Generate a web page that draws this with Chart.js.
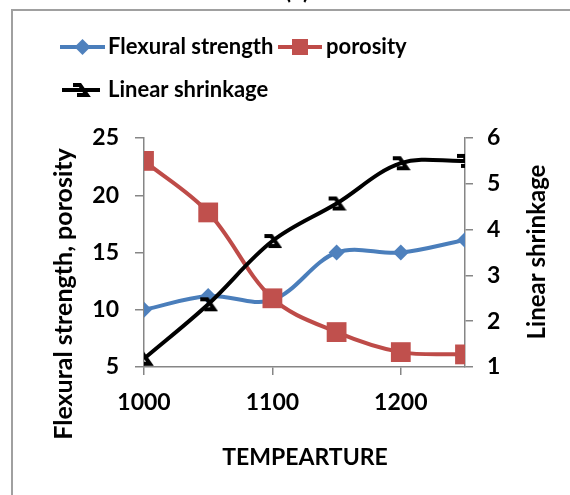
<!DOCTYPE html>
<html>
<head>
<meta charset="utf-8">
<script src="https://cdn.jsdelivr.net/npm/chart.js@4"></script>
<style>
  html, body { margin: 0; padding: 0; background: #fff; }
  #wrap { width: 570px; height: 495px; }
</style>
</head>
<body>
<div id="wrap"><canvas id="chart" width="570" height="495"></canvas></div>
<script>
// data
const temps = [1000, 1050, 1100, 1150, 1200, 1250];
const flexural = [10, 11.2, 10.85, 15, 15, 16.1];
const porosity = [23, 18.5, 11, 8.05, 6.3, 6.1];
const shrinkage = [1.18, 2.37, 3.75, 4.57, 5.45, 5.5];

const xTicks = [1000, 1100, 1200];
const leftTicks = [5, 10, 15, 20, 25];
const rightTicks = [1, 2, 3, 4, 5, 6];

const seriesNames = ["Flexural strength", "porosity", "Linear shrinkage"];
const xTitle = "TEMPEARTURE";
const leftTitle = "Flexural strength, porosity";
const rightTitle = "Linear shrinkage";

const FONT = "Lato, 'Open Sans', sans-serif";
const blue = '#4A7EBB', blueMark = '#4F81BD';
const red = '#BE4B48', redMark = '#C0504D';

// odd excel triangle marker, drawn as a little glyph
function makeShrinkMarker() {
  const c = document.createElement('canvas');
  c.width = 20; c.height = 20;
  const g = c.getContext('2d');
  g.strokeStyle = '#000';
  g.lineWidth = 4;
  g.lineJoin = 'miter';
  g.beginPath();
  g.moveTo(2, 5);
  g.lineTo(9, 5);
  g.lineTo(16, 15);
  g.lineTo(6, 15);
  g.stroke();
  return c;
}
const shrinkMarker = makeShrinkMarker();

const toXY = vals => vals.map((v, i) => ({ x: temps[i], y: v }));

const setTicks = arr => scale => { scale.ticks = arr.map(v => ({ value: v })); };

// legend, titles and frame
const decor = {
  id: 'decor',
  afterDraw(chart) {
    const ctx = chart.ctx;
    ctx.save();

    // frame
    ctx.strokeStyle = '#a0a0a0';
    ctx.lineWidth = 2;
    ctx.strokeRect(12, 10, 600, 520);

    // cut-off panel label
    ctx.fillStyle = '#000';
    ctx.font = "bold 22px " + FONT;
    ctx.textAlign = 'center';
    ctx.textBaseline = 'alphabetic';
    ctx.fillText("(b)", 297, -1);

    // legend
    ctx.font = "bold 22px " + FONT;
    ctx.textAlign = 'left';
    ctx.textBaseline = 'middle';
    const item = (x1, x2, y, color, drawMark, label, tx) => {
      ctx.strokeStyle = color;
      ctx.lineWidth = 4;
      ctx.beginPath();
      ctx.moveTo(x1, y);
      ctx.lineTo(x2, y);
      ctx.stroke();
      drawMark((x1 + x2) / 2, y);
      ctx.fillStyle = '#000';
      ctx.fillText(label, tx, y);
    };
    item(60, 105, 47, blue, (x, y) => {
      ctx.fillStyle = blueMark;
      ctx.beginPath();
      ctx.moveTo(x, y - 8); ctx.lineTo(x + 8, y); ctx.lineTo(x, y + 8); ctx.lineTo(x - 8, y);
      ctx.closePath(); ctx.fill();
    }, seriesNames[0], 108);
    item(278, 322, 47, red, (x, y) => {
      ctx.fillStyle = redMark;
      ctx.fillRect(x - 8, y - 8, 16, 16);
    }, seriesNames[1], 326);
    item(62, 100, 90, '#000', (x, y) => {
      ctx.drawImage(shrinkMarker, x - 10, y - 10);
    }, seriesNames[2], 108);

    // axis titles
    ctx.fillStyle = '#000';
    ctx.textAlign = 'center';
    ctx.font = "bold 23px " + FONT;
    ctx.fillText(xTitle, 305, 458);

    ctx.save();
    ctx.font = "bold 25px " + FONT;
    ctx.translate(64, 294);
    ctx.rotate(-Math.PI / 2);
    ctx.fillText(leftTitle, 0, 0);
    ctx.restore();

    ctx.save();
    ctx.font = "bold 24px " + FONT;
    ctx.translate(537, 252);
    ctx.rotate(-Math.PI / 2);
    ctx.fillText(rightTitle, 0, 0);
    ctx.restore();

    ctx.restore();
  }
};

const tickFont = { family: FONT, size: 23, weight: 'bold' };
const plain = v => String(v);

new Chart(document.getElementById('chart'), {
  type: 'line',
  data: {
    datasets: [
      {
        label: seriesNames[0],
        data: toXY(flexural),
        yAxisID: 'y',
        borderColor: blue,
        borderWidth: 4,
        backgroundColor: blueMark,
        pointStyle: 'rectRot',
        pointRadius: 8,
        pointBorderWidth: 0,
        tension: 0.35,
        order: 3
      },
      {
        label: seriesNames[1],
        data: toXY(porosity),
        yAxisID: 'y',
        borderColor: red,
        borderWidth: 4,
        backgroundColor: redMark,
        pointStyle: 'rect',
        pointRadius: 14,
        pointBorderWidth: 0,
        tension: 0.35,
        order: 2
      },
      {
        label: seriesNames[2],
        data: toXY(shrinkage),
        yAxisID: 'y1',
        borderColor: '#000',
        borderWidth: 4,
        pointStyle: shrinkMarker,
        tension: 0.35,
        order: 1
      }
    ]
  },
  options: {
    responsive: false,
    animation: false,
    layout: { padding: { top: 138, left: 0, right: 0, bottom: 0 } },
    plugins: {
      legend: { display: false },
      tooltip: { enabled: false }
    },
    scales: {
      x: {
        type: 'linear',
        min: 1000,
        max: 1250,
        afterBuildTicks: setTicks(xTicks),
        afterFit: s => { s.height = 128; },
        grid: { drawOnChartArea: false, tickLength: 8, color: '#868686', lineWidth: 1.5 },
        border: { color: '#868686', width: 1.5 },
        ticks: { font: tickFont, color: '#000', padding: 14, maxRotation: 0, callback: plain }
      },
      y: {
        position: 'left',
        min: 5,
        max: 25,
        afterBuildTicks: setTicks(leftTicks),
        afterFit: s => { s.width = 144; },
        grid: { drawOnChartArea: false, tickLength: 9, color: '#868686', lineWidth: 1.5 },
        border: { color: '#868686', width: 1.5 },
        ticks: { font: tickFont, color: '#000', padding: 16, callback: plain }
      },
      y1: {
        position: 'right',
        min: 1,
        max: 6,
        afterBuildTicks: setTicks(rightTicks),
        afterFit: s => { s.width = 105; },
        grid: { drawOnChartArea: false, tickLength: 8, color: '#868686', lineWidth: 1.5 },
        border: { color: '#868686', width: 1.5 },
        ticks: { font: tickFont, color: '#000', padding: 14, callback: plain }
      }
    }
  },
  plugins: [decor]
});
</script>
</body>
</html>
